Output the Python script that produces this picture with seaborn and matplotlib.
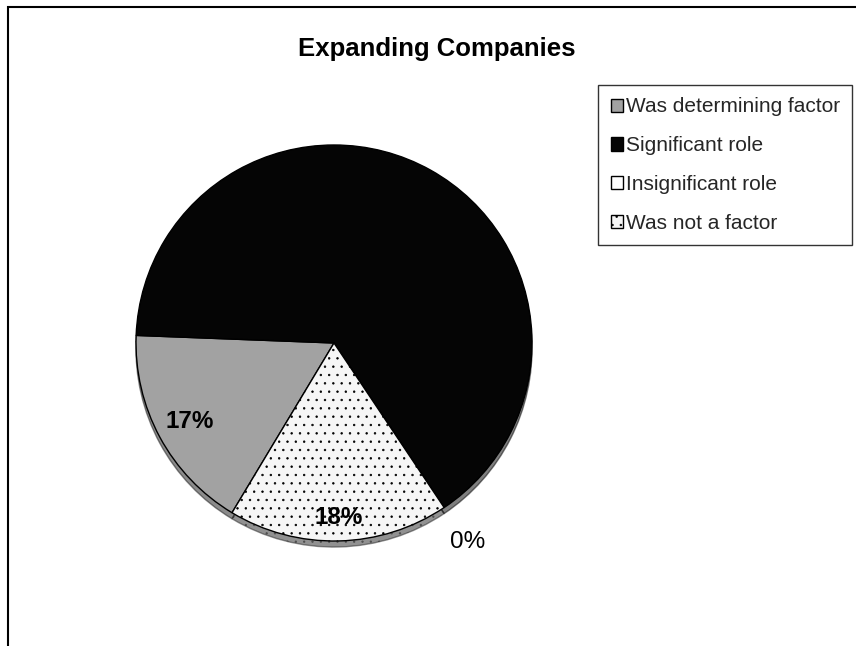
import matplotlib
matplotlib.use("Agg")
import matplotlib.pyplot as plt
import seaborn as sns
from matplotlib.patches import Rectangle
import numpy as np

sns.set_theme(style="white")
plt.rcParams["font.family"] = ["Liberation Sans", "DejaVu Sans"]
plt.rcParams["hatch.linewidth"] = 0.5

# data
categorias = ["Was determining factor", "Significant role", "Insignificant role", "Was not a factor"]
percentuais = [17, 65, 0, 18]
rotulos = ["17%", "", "0%", "18%"]
cores = ["#a2a2a2", "#050505", "#ffffff", "#f6f6f6"]
texturas = ["", "", "", ".."]

W, H = 856, 646
fig = plt.figure(figsize=(W / 100, H / 100), dpi=100)
fig.patch.set_facecolor("white")

# pie centered at (334, 343) px, radius 198 px
cx, cy, r = 334, H - 343, 198
lim = 1.3
lado = 2 * lim * r
ax = fig.add_axes([(cx - lado / 2) / W, (cy - lado / 2) / H, lado / W, lado / H])

fatias, _ = ax.pie(
    percentuais,
    colors=cores,
    hatch=texturas,
    startangle=239,
    counterclock=False,
    radius=1,
    shadow={"ox": 0.0, "oy": -0.022, "shade": 0.85},
    wedgeprops={"edgecolor": "black", "linewidth": 1.0},
)
for fatia in fatias:
    if hasattr(fatia, "set_hatchcolor"):
        fatia.set_hatchcolor("#707070")
ax.set_xlim(-lim, lim)
ax.set_ylim(-lim, lim)
ax.set_aspect("equal")
ax.axis("off")

# label placement per slice (fraction of radius)
distancias = [0.83, 0.0, 1.21, 0.88]
pesos = ["bold", "normal", "normal", "bold"]
for fatia, rot, d, peso in zip(fatias, rotulos, distancias, pesos):
    if not rot:
        continue
    ang = np.deg2rad((fatia.theta1 + fatia.theta2) / 2)
    ax.text(d * np.cos(ang), d * np.sin(ang), rot, ha="center", va="center",
            fontsize=17.5, fontweight=peso, color="black")

fig.text(437 / W, 1 - 49 / H, "Expanding Companies", ha="center", va="center",
         fontsize=18.5, fontweight="bold", color="black")

leg = fig.legend(
    fatias, categorias,
    loc="upper left", bbox_to_anchor=(598 / W, 1 - 85 / H),
    bbox_transform=fig.transFigure, borderaxespad=0,
    fontsize=15, frameon=True, fancybox=False, shadow=False,
    handlelength=0.6, handleheight=0.6, handletextpad=0.12,
    labelspacing=0.95, borderpad=0.6,
)
leg.get_frame().set_edgecolor("black")
leg.get_frame().set_linewidth(1.0)

# chart area border (right and bottom fall outside the picture)
fig.patches.append(Rectangle((8 / W, -0.1), 1.2, 1 - 7 / H + 0.1, transform=fig.transFigure,
                             fill=False, edgecolor="black", linewidth=1.5))

fig.savefig("out.png", dpi=100, facecolor="white")
